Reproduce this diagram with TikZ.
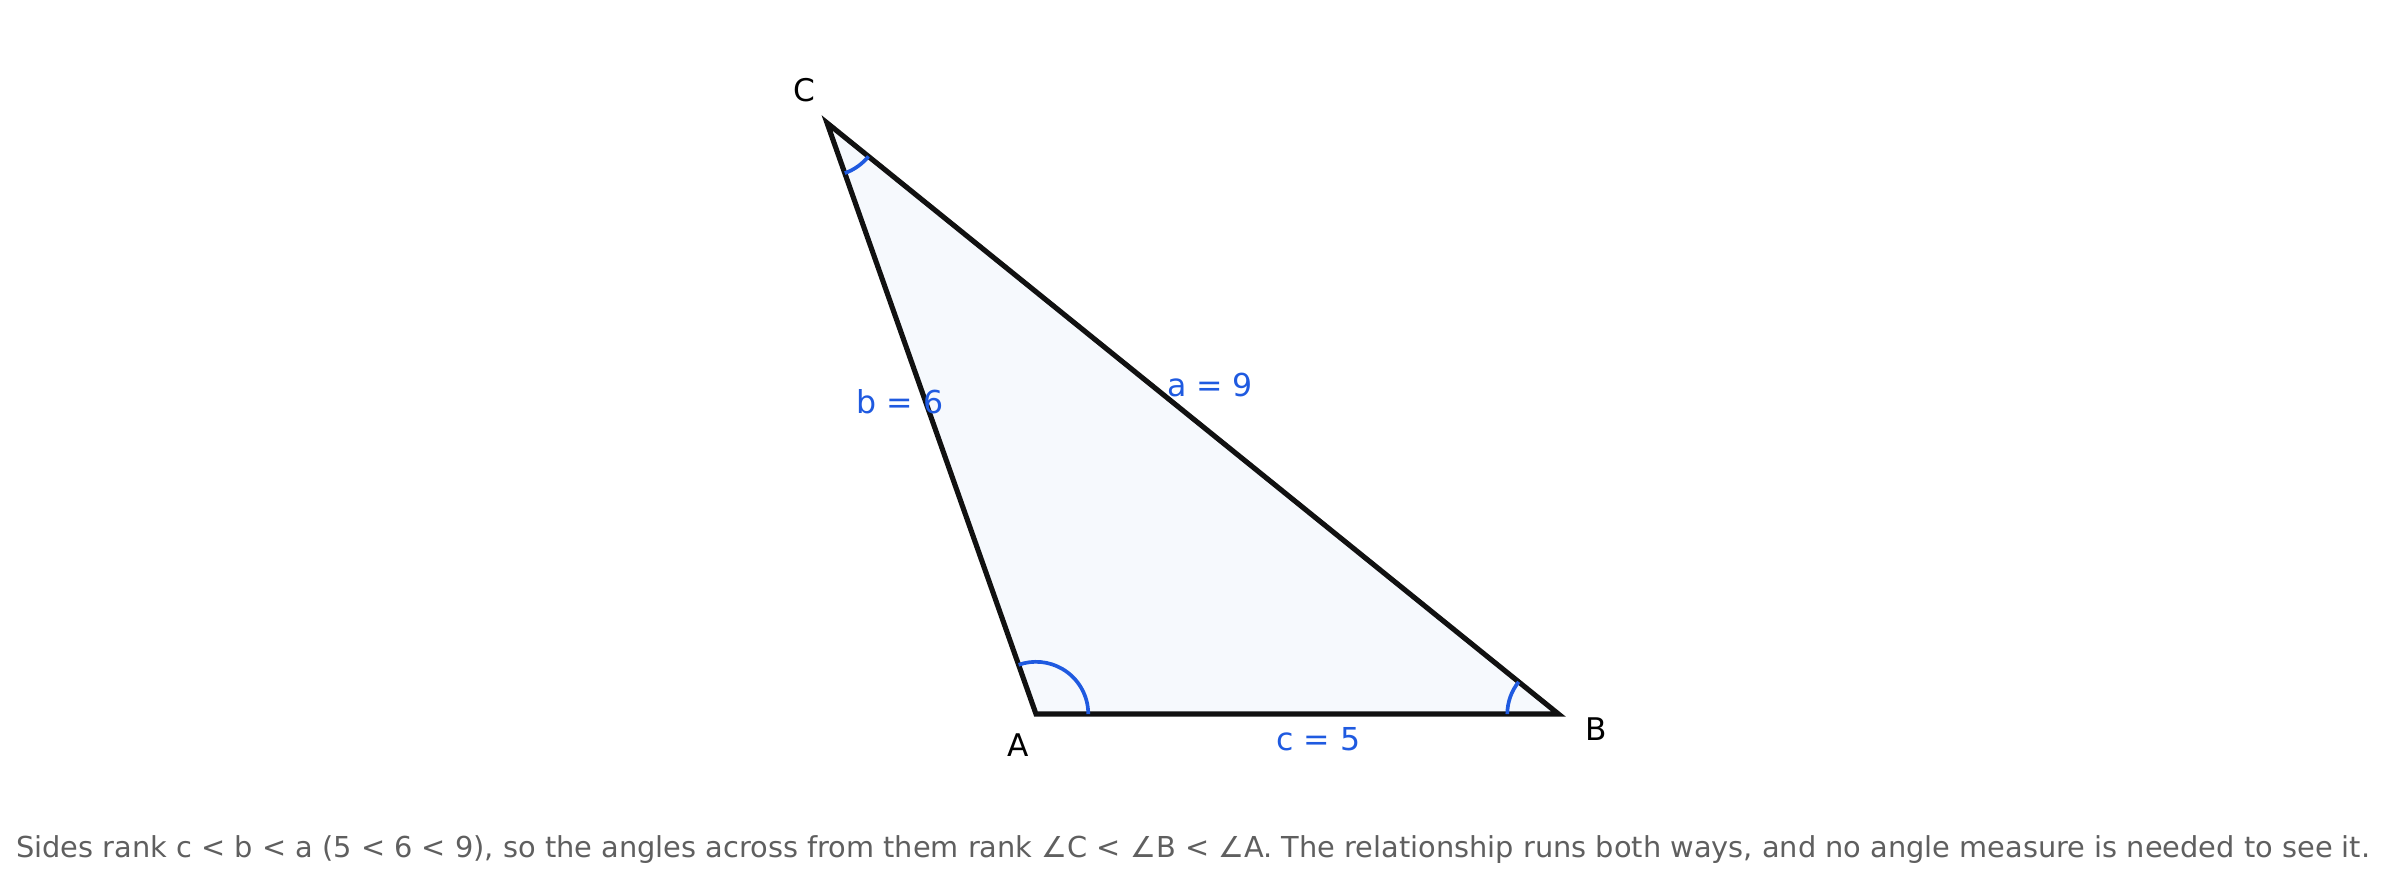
\documentclass[tikz,border=0pt]{standalone}
\usepackage{fontspec}
\setmainfont{DejaVu Sans}
\usetikzlibrary{angles}
\definecolor{edgeblk}{HTML}{111111}
\definecolor{markblue}{HTML}{1F5AE0}
\definecolor{fillblue}{HTML}{F6F9FD}
\definecolor{notegray}{HTML}{5F5F5F}
\begin{document}
\begin{tikzpicture}
    \tikzstyle{vlabel}=[text=black, font=\fontsize{8.5}{10}\selectfont]
    \tikzstyle{slabel}=[text=markblue, font=\fontsize{8.6}{10}\selectfont]
    \tikzstyle{anglemark}=[draw=markblue, line width=1pt]
    \useasboundingbox (-9.914,-1.636) rectangle (12.928,6.833);
    \coordinate (A) at (0,0);
    \coordinate (B) at (5,0);
    \coordinate (C) at (-2,5.657);
    \filldraw[fill=fillblue, draw=edgeblk, line width=1.4pt] (A) -- (B) -- (C) -- cycle;
    \pic[anglemark, angle radius=5mm] {angle = B--A--C};
    \pic[anglemark, angle radius=4.9mm] {angle = C--B--A};
    \pic[anglemark, angle radius=5.1mm] {angle = A--C--B};
    \node[vlabel] (lA) at (-0.167,-0.30) {A};
    \node[vlabel] (lB) at (5.36,-0.14) {B};
    \node[vlabel] (lC) at (-2.22,5.967) {C};
    \node[slabel] (sa) at (1.665,3.15) {a = 9};
    \node[slabel] (sb) at (-1.30,2.985) {b = 6};
    \node[slabel] (sc) at (2.70,-0.24) {c = 5};
    \node[text=notegray, font=\fontsize{7.85}{9}\selectfont, anchor=base] (note) at (1.505,-1.368)
      {Sides rank c < b < a (5 < 6 < 9), so the angles across from them rank ∠C < ∠B < ∠A. The relationship runs both ways, and no angle measure is needed to see it.};
\end{tikzpicture}
\end{document}
